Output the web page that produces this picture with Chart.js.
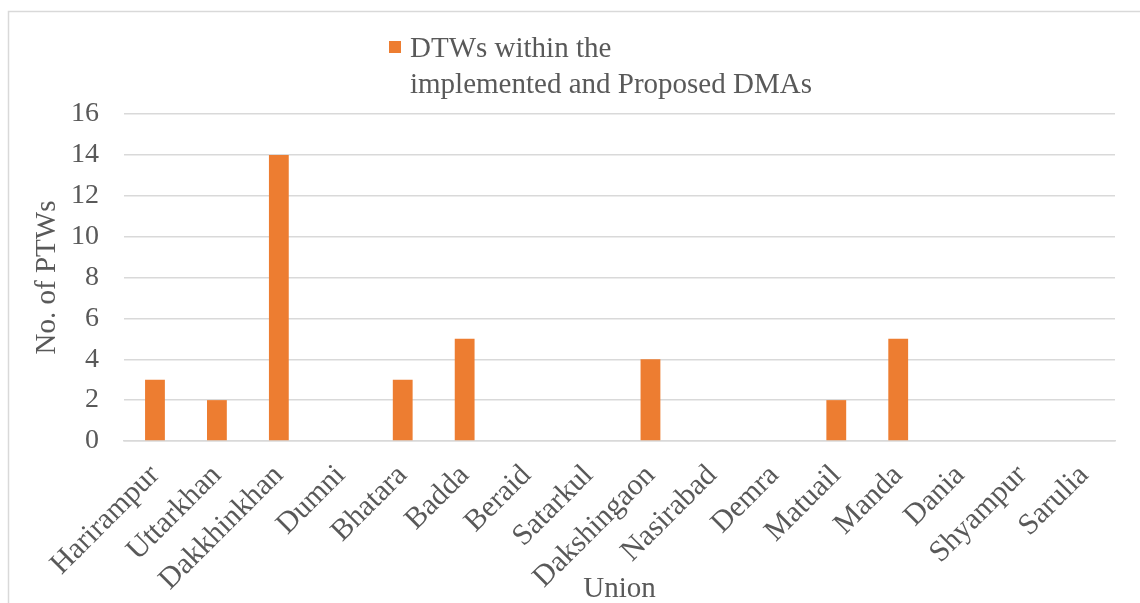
<!DOCTYPE html>
<html>
<head>
<meta charset="utf-8">
<script src="https://cdn.jsdelivr.net/npm/chart.js@4.4.0/dist/chart.umd.min.js"></script>
<style>
  html, body { margin: 0; padding: 0; background: #fff; }
  #wrap { width: 1140px; height: 603px; position: relative; }
</style>
</head>
<body>
<div id="wrap"><canvas id="chart" width="1140" height="603"></canvas></div>
<script>
const unions = ["Harirampur", "Uttarkhan", "Dakkhinkhan", "Dumni", "Bhatara", "Badda", "Beraid", "Satarkul",
  "Dakshingaon", "Nasirabad", "Demra", "Matuail", "Manda", "Dania", "Shyampur", "Sarulia"];
const dtwCounts = [3, 2, 14, 0, 3, 5, 0, 0, 4, 0, 0, 2, 5, 0, 0, 0];
const legendLines = ["DTWs within the", "implemented and Proposed DMAs"];
const yMax = 16;
const yStep = 2;

const textColor = "#595959";
const barColor = "#ED7D31";
const gridColor = "#D9D9D9";
const serif = "'Liberation Serif', 'Times New Roman', serif";

// legend drawn by hand because it wraps on two lines
const legendAndFrame = {
  id: "legendAndFrame",
  afterDraw(chart) {
    const ctx = chart.ctx;
    ctx.save();
    // outer frame (only top and left visible in the reference)
    ctx.strokeStyle = gridColor;
    ctx.lineWidth = 1.5;
    ctx.beginPath();
    ctx.moveTo(8.5, 603);
    ctx.lineTo(8.5, 11.5);
    ctx.lineTo(1140, 11.5);
    ctx.stroke();

    ctx.fillStyle = barColor;
    ctx.fillRect(389, 41, 12, 12);
    ctx.fillStyle = textColor;
    ctx.font = "29px " + serif;
    ctx.textBaseline = "middle";
    ctx.textAlign = "left";
    ctx.fillText(legendLines[0], 410, 49);
    ctx.fillText(legendLines[1], 410, 85);
    ctx.restore();
  }
};

new Chart(document.getElementById("chart"), {
  type: "bar",
  data: {
    labels: unions,
    datasets: [{
      label: legendLines.join(" "),
      data: dtwCounts,
      backgroundColor: barColor,
      borderWidth: 0,
      categoryPercentage: 1,
      barPercentage: 0.32
    }]
  },
  options: {
    responsive: false,
    animation: false,
    layout: { padding: { top: 114, left: 20, right: 25, bottom: 0 } },
    plugins: {
      legend: { display: false },
      tooltip: { enabled: false }
    },
    scales: {
      x: {
        grid: { display: false, drawTicks: false },
        border: { display: true, color: gridColor, width: 1.5 },
        ticks: {
          color: textColor,
          font: { family: serif, size: 30 },
          minRotation: 45,
          maxRotation: 45,
          autoSkip: false,
          padding: 17
        },
        title: {
          display: true,
          text: "Union",
          color: textColor,
          font: { family: serif, size: 29 },
          padding: { top: 0, bottom: -4 }
        },
        afterFit(scale) { scale.height = 162; }
      },
      y: {
        min: 0,
        max: yMax,
        grid: { color: gridColor, lineWidth: 1.5, drawTicks: false },
        border: { display: false },
        ticks: {
          stepSize: yStep,
          color: textColor,
          font: { family: serif, size: 28 },
          padding: 25
        },
        title: {
          display: true,
          text: "No. of PTWs",
          color: textColor,
          font: { family: serif, size: 29 },
          padding: { top: 10, bottom: 0 }
        },
        afterFit(scale) { scale.width = 104; }
      }
    }
  },
  plugins: [legendAndFrame]
});
</script>
</body>
</html>
